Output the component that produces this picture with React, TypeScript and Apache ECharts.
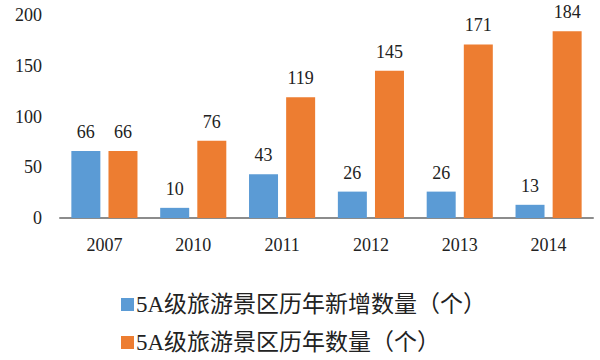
import React, { useEffect, useRef } from "react";
import * as echarts from "echarts";

const categories = ["2007", "2010", "2011", "2012", "2013", "2014"];
const newAdded = [66, 10, 43, 26, 26, 13];
const total = [66, 76, 119, 145, 171, 184];
const seriesNames = ["5A级旅游景区历年新增数量（个）", "5A级旅游景区历年数量（个）"];

const FONT = "Liberation Serif, Times New Roman, Noto Sans CJK SC, serif";

export default function App() {
  const ref = useRef<HTMLDivElement>(null);
  useEffect(() => {
    const chart = echarts.init(ref.current!, undefined, { renderer: "svg" });
    const label = {
      show: true,
      position: "top" as const,
      distance: 10,
      fontFamily: FONT,
      fontSize: 18,
      color: "#222",
    };
    const legendBase = {
      orient: "horizontal",
      left: 116,
      itemWidth: 13,
      itemHeight: 13,
      icon: "rect",
      textStyle: { fontFamily: FONT, fontSize: 23, color: "#222", padding: [0, 0, 0, -3] },
    };
    chart.setOption({
      animation: false,
      grid: { left: 60, right: 7, top: 15, bottom: 142 },
      legend: [
        { ...legendBase, top: 288, data: [seriesNames[0]] },
        { ...legendBase, top: 326, data: [seriesNames[1]] },
      ],
      xAxis: {
        type: "category",
        data: categories,
        axisLine: { lineStyle: { color: "#8c8c8c", width: 2 } },
        axisTick: { show: false },
        axisLabel: { fontFamily: FONT, fontSize: 18, color: "#222", margin: 18 },
      },
      yAxis: {
        type: "value",
        min: 0,
        max: 200,
        interval: 50,
        axisLine: { show: false },
        axisTick: { show: false },
        splitLine: { show: false },
        axisLabel: { fontFamily: FONT, fontSize: 18, color: "#222", margin: 18 },
      },
      series: [
        {
          name: seriesNames[0],
          type: "bar",
          data: newAdded,
          barWidth: 29,
          barGap: "28%",
          itemStyle: { color: "#5B9BD5" },
          label,
        },
        {
          name: seriesNames[1],
          type: "bar",
          data: total,
          barWidth: 29,
          barGap: "28%",
          itemStyle: { color: "#ED7D31" },
          label,
        },
      ],
    });
    return () => chart.dispose();
  }, []);
  return <div ref={ref} style={{ position: "absolute", left: 0, top: 0, width: 600, height: 360 }} />;
}
